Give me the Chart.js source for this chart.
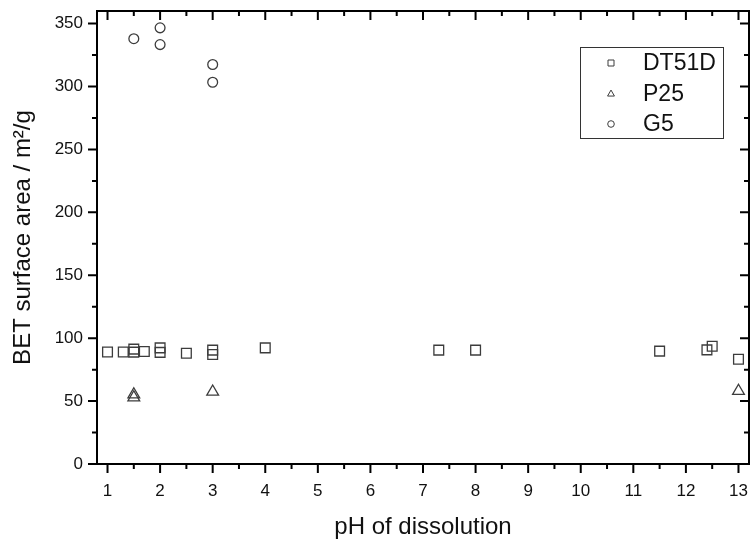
<!DOCTYPE html>
<html>
<head>
<meta charset="utf-8">
<script src="https://cdn.jsdelivr.net/npm/chart.js@4/dist/chart.umd.min.js"></script>
<style>
  html, body { margin: 0; padding: 0; background: #fff; }
</style>
</head>
<body>
<canvas id="chart" width="750" height="543"></canvas>
<script>
// tick labels
const xTicks = [1, 2, 3, 4, 5, 6, 7, 8, 9, 10, 11, 12, 13];
const yTicks = [0, 50, 100, 150, 200, 250, 300, 350];

// DT51D
const dt51dPh   = [1, 1.3, 1.5, 1.5, 1.7, 2, 2, 2.5, 3, 3, 4, 7.3, 8, 11.5, 12.4, 12.5, 13];
const dt51dArea = [89, 89, 91.3, 88.9, 89.4, 92.3, 88.7, 88, 90.5, 87, 92.3, 90.5, 90.5, 89.7, 90.7, 93.6, 83.3];

// P25
const p25Ph   = [1.5, 1.5, 3, 13];
const p25Area = [55.2, 52.8, 57.4, 58];

// G5
const g5Ph   = [1.5, 2, 2, 3, 3];
const g5Area = [338, 346.6, 333.3, 317.5, 303.4];

const ink = '#3c3c3c';
const font = 'Liberation Sans, Arial, sans-serif';

function pts(xs, ys) {
  return xs.map((v, i) => ({ x: v, y: ys[i] }));
}

function shape(ctx, style, x, y, s) {
  ctx.beginPath();
  if (style === 'rect') {
    ctx.rect(x - s, y - s, 2 * s, 2 * s);
  } else if (style === 'triangle') {
    ctx.moveTo(x, y - s * 1.15);
    ctx.lineTo(x + s * 1.15, y + s * 0.85);
    ctx.lineTo(x - s * 1.15, y + s * 0.85);
    ctx.closePath();
  } else {
    ctx.arc(x, y, s * 1.1, 0, Math.PI * 2);
  }
  ctx.stroke();
}

// frame on all four sides, ticks out on bottom/left, mirrored in on top/right
const framePlugin = {
  id: 'frame',
  afterDatasetsDraw(chart) {
    const { ctx, chartArea: a, scales: { x, y } } = chart;
    ctx.save();
    ctx.strokeStyle = '#000';
    ctx.lineWidth = 2;
    ctx.strokeRect(a.left, a.top, a.right - a.left, a.bottom - a.top);
    ctx.beginPath();
    const xt = (v, len) => {
      const px = x.getPixelForValue(v);
      ctx.moveTo(px, a.bottom); ctx.lineTo(px, a.bottom + len);
      ctx.moveTo(px, a.top); ctx.lineTo(px, a.top + len);
    };
    const yt = (v, len) => {
      const py = y.getPixelForValue(v);
      ctx.moveTo(a.left, py); ctx.lineTo(a.left - len, py);
      ctx.moveTo(a.right, py); ctx.lineTo(a.right - len, py);
    };
    xTicks.forEach(v => xt(v, 9));
    xTicks.slice(0, -1).forEach(v => xt(v + 0.5, 5));
    yTicks.forEach(v => yt(v, 9));
    yTicks.slice(0, -1).forEach(v => yt(v + 25, 5));
    ctx.stroke();
    ctx.restore();
  }
};

const legendPlugin = {
  id: 'boxLegend',
  afterDraw(chart) {
    const { ctx, chartArea: a } = chart;
    const left = a.right - 169, top = a.top + 36;
    ctx.save();
    ctx.strokeStyle = '#333';
    ctx.lineWidth = 1;
    ctx.strokeRect(left + 0.5, top + 0.5, 143, 91);
    ctx.font = '23px ' + font;
    ctx.textBaseline = 'middle';
    ctx.fillStyle = '#111';
    chart.data.datasets.forEach((ds, i) => {
      const ry = top + 16 + i * 30.5;
      ctx.strokeStyle = ink;
      shape(ctx, ds.pointStyle, left + 31, ry, 3);
      ctx.fillText(ds.label, left + 63, ry + 1);
    });
    ctx.restore();
  }
};

new Chart(document.getElementById('chart'), {
  type: 'scatter',
  data: {
    datasets: [
      { label: 'DT51D', data: pts(dt51dPh, dt51dArea), pointStyle: 'rect', pointRadius: 6.9,
        borderColor: ink, backgroundColor: 'rgba(0,0,0,0)', borderWidth: 1.3 },
      { label: 'P25', data: pts(p25Ph, p25Area), pointStyle: 'triangle', pointRadius: 6.8,
        borderColor: ink, backgroundColor: 'rgba(0,0,0,0)', borderWidth: 1.3 },
      { label: 'G5', data: pts(g5Ph, g5Area), pointStyle: 'circle', pointRadius: 4.9,
        borderColor: ink, backgroundColor: 'rgba(0,0,0,0)', borderWidth: 1.3 }
    ]
  },
  options: {
    responsive: false,
    animation: false,
    events: [],
    clip: false,
    layout: { autoPadding: false, padding: { top: 11, right: 1, left: 0, bottom: 0 } },
    plugins: {
      legend: { display: false },
      tooltip: { enabled: false }
    },
    scales: {
      x: {
        type: 'linear',
        min: 0.8,
        max: 13.2,
        afterBuildTicks: s => { s.ticks = xTicks.map(v => ({ value: v })); },
        afterFit: s => { s.height = 79; s.paddingLeft = 0; s.paddingRight = 0; },
        grid: { display: false },
        border: { display: false },
        ticks: { color: '#111', font: { family: font, size: 17 }, padding: 9, maxRotation: 0 },
        title: {
          display: true, text: 'pH of dissolution', color: '#111',
          font: { family: font, size: 24 }, padding: { top: 0, bottom: 1 }
        }
      },
      y: {
        min: 0,
        max: 360,
        afterBuildTicks: s => { s.ticks = yTicks.map(v => ({ value: v })); },
        afterFit: s => { s.width = 97; s.paddingTop = 0; s.paddingBottom = 0; },
        grid: { display: false },
        border: { display: false },
        ticks: { color: '#111', font: { family: font, size: 17 }, padding: 6 },
        title: {
          display: true, text: 'BET surface area / m²/g', color: '#111',
          font: { family: font, size: 24 }, padding: { top: 9, bottom: 0 }
        }
      }
    }
  },
  plugins: [framePlugin, legendPlugin]
});
</script>
</body>
</html>
